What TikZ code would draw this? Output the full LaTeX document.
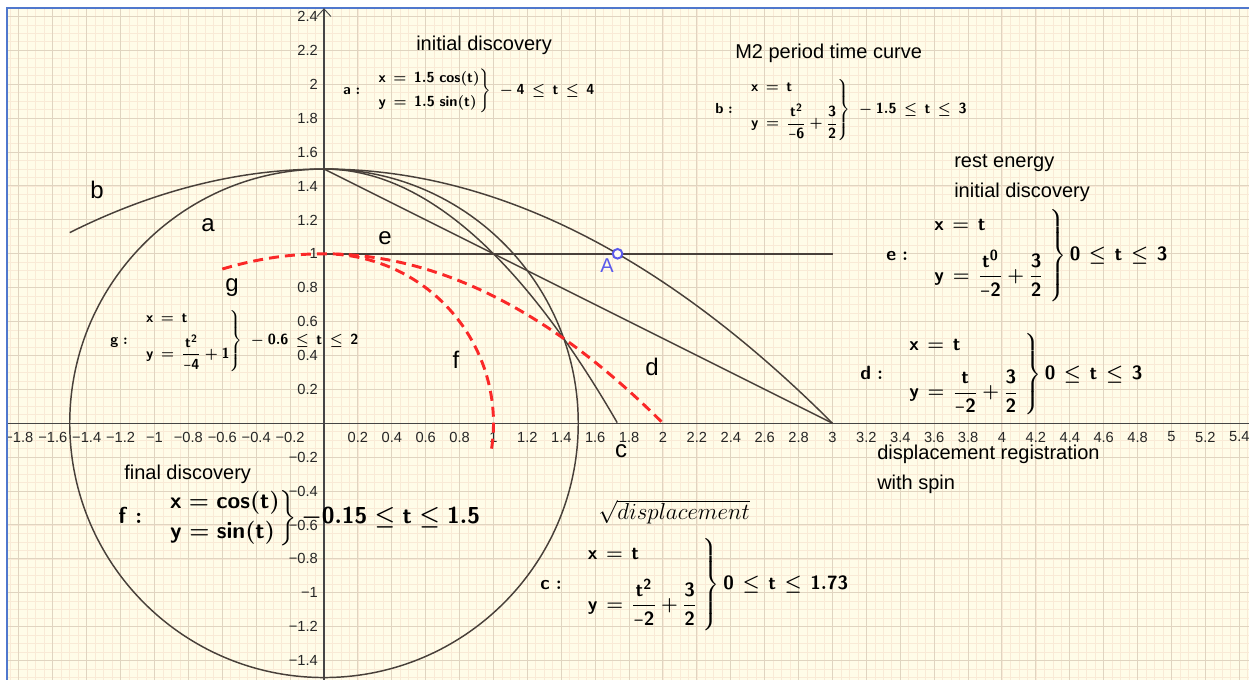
\documentclass[tikz,border=0pt]{standalone}
\usepackage{amsmath}
\usepackage{graphicx}
\usepackage[no-math]{fontspec}
\newfontfamily\lib{Liberation Sans}
\DeclareMathAlphabet{\mathsb}{OT1}{cmss}{bx}{n}
\definecolor{bgc}{RGB}{255,252,232}
\definecolor{majc}{RGB}{224,212,192}
\definecolor{minc}{RGB}{249,234,214}
\definecolor{curvec}{RGB}{72,64,58}
\definecolor{axc}{RGB}{70,70,70}
\definecolor{redc}{RGB}{250,40,40}
\definecolor{framec}{RGB}{80,120,205}
\definecolor{ptc}{RGB}{90,90,235}
\newcommand{\sbm}[1]{\mathsb{#1}}
\newcommand{\mn}{\mathord{\scalebox{0.62}[1]{$-$}}}
\newcommand{\bstrut}[1]{\vrule height #1 depth #1 width 0pt}
\newcommand{\EQ}{\mathrel{\,=\,}}
\newcommand{\LE}{\mathrel{\,\le\,}}
\newcommand{\EQb}{\mathrel{\mkern2mu=\mkern2mu}}
\newcommand{\LEb}{\mathrel{\mkern2mu\le\mkern2mu}}
\begin{document}
\begin{tikzpicture}[x=127.125pt,y=127.125pt,
  curve/.style={draw=curvec,line width=1.1pt},
  reddash/.style={draw=redc,line width=2.2pt,dash pattern=on 7.5pt off 4.5pt},
  axlbl/.style={font=\lib\fontsize{11}{13}\selectfont,text=black!85,inner sep=0pt},
  plain/.style={font=\lib\fontsize{15}{18}\selectfont,inner sep=0pt,anchor=base west},
  letter/.style={font=\lib\fontsize{18}{21}\selectfont,inner sep=0pt,anchor=base},
  eqs/.style={font=\fontsize{11.4}{13.5}\selectfont\boldmath,inner sep=0pt,anchor=west},
  eqb/.style={font=\fontsize{15.6}{18.5}\selectfont\boldmath,inner sep=0pt,anchor=west}]
\useasboundingbox (-1.9115,-1.5086) rectangle (5.4572,2.4973);
\fill[white] (-1.9115,-1.5086) rectangle (5.4572,2.4973);
\begin{scope}
  \clip (-1.864,-1.5086) rectangle (5.4572,2.45);
  \fill[bgc] (-2,-1.6) rectangle (5.6,2.6);
  \draw[minc,line width=0.6pt,step=0.05] (-2,-1.6) grid (5.6,2.6);
  \draw[majc,line width=0.75pt,step=0.2] (-2,-1.6) grid (5.6,2.6);
  % axes
  \draw[axc,line width=0.8pt] (-2,0) -- (5.6,0);
  \draw[axc,line width=0.8pt] (0,-1.6) -- (0,2.6);
  % axis numbers
  \foreach \v in {0.2,0.4,0.6,0.8,1,1.2,1.4,1.6,1.8,2,2.2,2.4,2.6,2.8,3,3.2,3.4,3.6,3.8,4,4.2,4.4,4.6,4.8,5,5.2,5.4}
    \node[axlbl] (xl\v) at (\v,-0.081) {\v};
  \foreach \v in {0.2,0.4,0.6,0.8,1,1.2,1.4,1.6,1.8}
    \node[axlbl] (xn\v) at (-\v,-0.081) {−\v};
  \foreach \v in {0.2,0.4,0.6,0.8,1,1.2,1.4,1.6,1.8,2,2.2,2.4}
    \node[axlbl,anchor=east] (yl\v) at (-0.035,\v) {\v};
  \foreach \v in {0.2,0.4,0.6,0.8,1,1.2,1.4}
    \node[axlbl,anchor=east] (yn\v) at (-0.035,-\v) {−\v};
  % curves
  \draw[curve] (0,0) circle (1.5);
  \draw[curve] plot[domain=-1.5:3,samples=120,smooth] (\x,{-\x*\x/6+1.5});
  \draw[curve] plot[domain=0:1.73,samples=100,smooth] (\x,{-\x*\x/2+1.5});
  \draw[curve] (0,1.5) -- (3,0);
  \draw[curve] (0,1) -- (3,1);
  \draw[reddash] plot[domain=-0.15:1.5,samples=100,smooth] ({cos(\x r)},{sin(\x r)});
  \draw[reddash] plot[domain=-0.6:2,samples=100,smooth] (\x,{-\x*\x/4+1});
  % point A
  \draw[ptc,line width=1.5pt,fill=bgc!60!white] (1.732,1) circle (3.6pt);
\end{scope}
% frame
\draw[framec,line width=1.5pt] (-1.8702,-1.6) -- (-1.8702,2.4502) -- (5.6,2.4502);
% arrow on y axis
\draw[axc,line width=0.7pt] (-0.041,2.40) -- (0,2.445) -- (0.041,2.40);
% texts in pixel coordinates
\begin{scope}[shift={(-1.9115,2.4973)},x=0.75pt,y=-0.75pt]
  \node[plain] (t1) at (416,51) {initial discovery};
  \node[plain] (t2) at (735,59) {M2 period time curve};
  \node[plain] (t3) at (954,168) {rest energy};
  \node[plain] (t4) at (954,198) {initial discovery};
  \node[plain] (t5) at (877,459) {displacement registration};
  \node[plain] (t6) at (877,489) {with spin};
  \node[plain] (t7) at (124,479) {final discovery};
  \node[letter] (lb) at (97,199) {b};
  \node[letter] (la) at (208,231) {a};
  \node[letter] (le) at (385,244) {e};
  \node[letter] (lg) at (232,291) {g};
  \node[letter] (lf) at (456,368) {f};
  \node[letter] (ld) at (652,375) {d};
  \node[letter] (lc) at (621,457) {c};
  \node[letter,text=ptc,font=\lib\fontsize{15}{18}\selectfont] (lA) at (607,272) {A};
  % equations
  \node[eqs] (ea) at (343,91) {$\sbm{a}\;{:}\;\;\;\left.\begin{array}{@{}l@{}}\sbm{x}\EQ\sbm{1.5}\;\sbm{cos}(\sbm{t})\\[5pt]\sbm{y}\EQ\sbm{1.5}\;\sbm{sin}(\sbm{t})\end{array}\right\}\;-\sbm{4}\LE\sbm{t}\LE\sbm{4}$};
  \node[eqs] (eb) at (715,110) {$\sbm{b}\;{:}\;\;\;\left.\begin{array}{@{}l@{}}\sbm{x}\EQ\sbm{t}\\[5pt]\sbm{y}\EQ\dfrac{\sbm{t}^{\sbm{2}}}{\mn\sbm{6}}+\dfrac{\sbm{3}}{\sbm{2}}\end{array}\right\}\;-\sbm{1.5}\LE\sbm{t}\LE\sbm{3}$};
  \node[eqs,font=\fontsize{11}{13}\selectfont\boldmath] (eg) at (110,341) {$\sbm{g}\;{:}\;\;\;\left.\begin{array}{@{}l@{}}\sbm{x}\EQ\sbm{t}\\[5pt]\sbm{y}\EQ\dfrac{\sbm{t}^{\sbm{2}}}{\mn\sbm{4}}+\sbm{1}\end{array}\right\}\;-\sbm{0.6}\LE\sbm{t}\LE\sbm{2}$};
  \node[eqb] (ee) at (886,256) {$\sbm{e}\;{:}\quad\left.\bstrut{31pt}\begin{array}{@{}l@{\;}}\sbm{x}\EQb\sbm{t}\\[9pt]\sbm{y}\EQb\dfrac{\sbm{t}^{\sbm{0}}}{\mn\sbm{2}}+\dfrac{\sbm{3}}{\sbm{2}}\end{array}\right\}\sbm{0}\LEb\sbm{t}\LEb\sbm{3}$};
  \node[eqb] (ed) at (860,375) {$\sbm{d}\;{:}\quad\left.\bstrut{28pt}\begin{array}{@{}l@{\;}}\sbm{x}\EQb\sbm{t}\\[9pt]\sbm{y}\EQb\dfrac{\sbm{t}}{\mn\sbm{2}}+\dfrac{\sbm{3}}{\sbm{2}}\end{array}\right\}\sbm{0}\LEb\sbm{t}\LEb\sbm{3}$};
  \node[eqb] (ec) at (540,585) {$\sbm{c}\;{:}\quad\left.\bstrut{31pt}\begin{array}{@{}l@{\;}}\sbm{x}\EQb\sbm{t}\\[9pt]\sbm{y}\EQb\dfrac{\sbm{t}^{\sbm{2}}}{\mn\sbm{2}}+\dfrac{\sbm{3}}{\sbm{2}}\end{array}\right\}\sbm{0}\LEb\sbm{t}\LEb\sbm{1.73}$};
  \node[eqb,font=\fontsize{16.3}{19.5}\selectfont\boldmath] (ef) at (118,518) {$\sbm{f}\;{:}\quad\left.\begin{array}{@{}l@{}}\sbm{x}=\sbm{cos}(\sbm{t})\\[3pt]\sbm{y}=\sbm{sin}(\sbm{t})\end{array}\right\}{-}\sbm{0.15}\le\sbm{t}\le\sbm{1.5}$};
  \node[anchor=west,inner sep=0pt,font=\fontsize{16}{19}\selectfont] (sq) at (598,512) {$\sqrt{displacement}$};
\end{scope}
\end{tikzpicture}
\end{document}
